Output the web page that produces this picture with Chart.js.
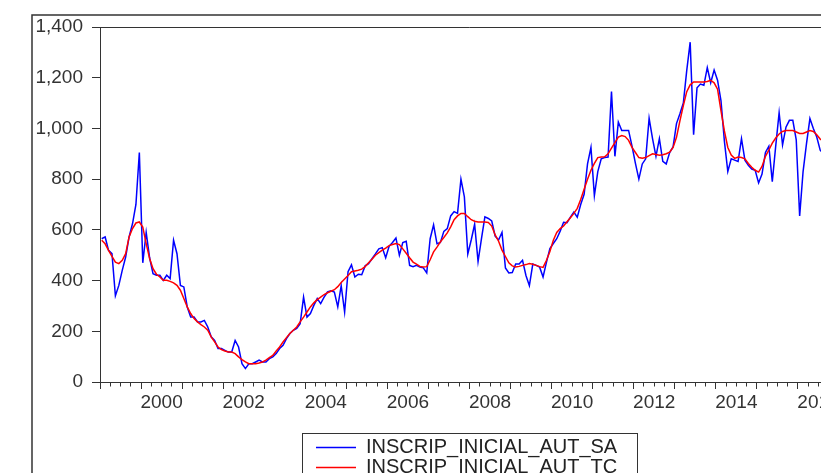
<!DOCTYPE html>
<html lang="en">
<head>
<meta charset="UTF-8">
<title>INSCRIP_INICIAL_AUT</title>
<script src="https://cdn.jsdelivr.net/npm/chart.js"></script>
<style>
  html, body { margin: 0; padding: 0; overflow: hidden; background: #fff; }
  .chart-container { width: 900px; height: 500px; }
</style>
</head>
<body>
<div class="chart-container"><canvas id="chart" width="900" height="500"></canvas></div>
<script>
// monthly series, first observation 1999M01
const startYear = 1999;
const yearLabels = [2000, 2002, 2004, 2006, 2008, 2010, 2012, 2014, 2016];
const seriesNames = ['INSCRIP_INICIAL_AUT_SA', 'INSCRIP_INICIAL_AUT_TC'];
const seriesColors = ['#0000ff', '#ff0000'];

const sa = [
  565, 572, 519, 506, 340, 381, 440, 493, 572, 624, 700, 905,   // 1999
  470, 590, 490, 427, 421, 421, 401, 421, 408, 559, 506, 381,   // 2000
  375, 296, 256, 256, 237, 237, 243, 217, 178, 164, 132, 132,   // 2001
  125, 118, 118, 164, 138, 72, 53, 72, 72, 79, 86, 79,          // 2002
  79, 92, 99, 112, 132, 145, 171, 191, 204, 211, 230, 335,      // 2003
  256, 270, 302, 329, 309, 335, 355, 360, 355, 296, 380, 276,   // 2004
  435, 462, 414, 425, 423, 458, 467, 486, 505, 525, 530, 490,   // 2005
  535, 550, 568, 500, 550, 555, 460, 455, 460, 453, 450, 430,   // 2006
  565, 620, 545, 550, 594, 605, 655, 672, 665, 800, 730, 505,   // 2007
  560, 622, 475, 565, 651, 645, 635, 575, 560, 590, 450, 430,   // 2008
  432, 465, 465, 480, 420, 380, 465, 460, 453, 414, 473, 526,   // 2009
  546, 565, 595, 630, 628, 650, 670, 650, 700, 740, 860, 925,   // 2010
  735, 830, 880, 885, 887, 1145, 890, 1025, 992, 992, 992, 930, // 2011
  862, 800, 860, 880, 1040, 960, 890, 960, 870, 860, 905, 927,  // 2012
  1019, 1058, 1100, 1229, 1340, 975, 1160, 1175, 1170, 1240, 1180, 1230, // 2013
  1190, 1110, 950, 830, 880, 875, 870, 960, 875, 855, 840, 835, // 2014
  785, 820, 905, 930, 790, 930, 1062, 935, 1005, 1032, 1032, 955, // 2015
  655, 830, 940, 1039, 1000, 966, 914, 900                      // 2016
];

const tc = [
  559, 545, 519, 495, 473, 467, 480, 506, 572, 605, 627, 631,   // 1999
  611, 546, 487, 447, 425, 414, 401, 401, 397, 391, 381, 362,   // 2000
  329, 296, 270, 250, 237, 226, 217, 204, 178, 158, 138, 128,   // 2001
  122, 118, 118, 112, 99, 88, 79, 72, 72, 72, 75, 79,           // 2002
  86, 96, 105, 122, 138, 158, 175, 191, 204, 217, 237, 256,     // 2003
  276, 296, 312, 325, 335, 345, 352, 358, 364, 376, 392, 406,   // 2004
  420, 435, 438, 441, 445, 455, 470, 484, 500, 510, 520, 528,   // 2005
  538, 542, 546, 542, 525, 508, 490, 473, 465, 456, 454, 455,   // 2006
  482, 513, 532, 553, 570, 588, 612, 640, 655, 665, 665, 652,   // 2007
  640, 634, 631, 631, 631, 629, 615, 580, 555, 520, 495, 470,   // 2008
  458, 454, 456, 460, 463, 467, 464, 460, 455, 452, 480, 515,   // 2009
  559, 590, 605, 615, 632, 648, 665, 685, 720, 760, 800, 835,   // 2010
  862, 885, 887, 888, 900, 922, 944, 966, 972, 968, 953, 925,   // 2011
  905, 885, 882, 885, 893, 900, 897, 894, 896, 900, 906, 925,   // 2012
  965, 1030, 1090, 1145, 1172, 1183, 1183, 1183, 1183, 1185, 1190, 1180, // 2013
  1155, 1070, 990, 925, 895, 882, 887, 885, 880, 862, 847, 835, // 2014
  828, 850, 890, 915, 942, 962, 978, 988, 992, 992, 992, 986,   // 2015
  980, 980, 986, 992, 988, 975, 958, 950                        // 2016
];

const months = sa.map((_, i) => startYear + (i + 0.5) / 12);
const toPoints = arr => arr.map((v, i) => ({ x: months[i], y: v }));

const fontFamily = '"Liberation Sans", Arial, sans-serif';

// frame round the whole graph and the top / right edges of the plot box
const frames = {
  id: 'frames',
  afterDraw(chart) {
    const { ctx, chartArea: a } = chart;
    ctx.save();
    ctx.strokeStyle = '#333';
    ctx.lineWidth = 1.5;
    ctx.strokeRect(32, 15, 860, 480);
    ctx.lineWidth = 1;
    ctx.beginPath();
    ctx.moveTo(a.left, a.top + 0.5);
    ctx.lineTo(a.right + 0.5, a.top + 0.5);
    ctx.lineTo(a.right + 0.5, a.bottom);
    ctx.stroke();
    ctx.restore();
  }
};

// EViews style boxed legend under the plot
const legendBox = {
  id: 'legendBox',
  afterDraw(chart) {
    const { ctx, chartArea: a } = chart;
    const w = 335;
    const top = Math.round(a.bottom + 51);
    const left = Math.round((a.left + a.right) / 2 - w / 2);
    ctx.save();
    ctx.lineWidth = 1;
    ctx.strokeStyle = '#333';
    ctx.strokeRect(left + 0.5, top + 0.5, w, 60);
    ctx.font = '20px ' + fontFamily;
    ctx.textBaseline = 'middle';
    seriesNames.forEach((name, i) => {
      const y = top + 14.5 + i * 20;
      ctx.lineWidth = 1.5;
      ctx.strokeStyle = seriesColors[i];
      ctx.beginPath();
      ctx.moveTo(left + 14, y);
      ctx.lineTo(left + 54, y);
      ctx.stroke();
      ctx.fillStyle = '#222';
      ctx.fillText(name, left + 64, y);
    });
    ctx.restore();
  }
};

new Chart(document.getElementById('chart'), {
  type: 'line',
  data: {
    datasets: [
      { label: seriesNames[0], data: toPoints(sa), borderColor: seriesColors[0], borderWidth: 1.5, order: 2 },
      { label: seriesNames[1], data: toPoints(tc), borderColor: seriesColors[1], borderWidth: 1.5, order: 1 }
    ]
  },
  options: {
    responsive: false,
    animation: false,
    elements: { point: { radius: 0 }, line: { tension: 0 } },
    layout: { padding: { left: 0, top: 27, right: 61, bottom: 0 } },
    plugins: { legend: { display: false }, tooltip: { enabled: false } },
    scales: {
      x: {
        type: 'linear',
        min: startYear,
        max: 2017,
        afterFit: s => { s.height = 118; },
        afterBuildTicks: s => {
          const t = [];
          for (let q = startYear * 4; q <= 2017 * 4; q++) t.push({ value: q / 4 });
          s.ticks = t;
        },
        ticks: {
          autoSkip: false,
          maxRotation: 0,
          minRotation: 0,
          padding: 2,
          color: '#333',
          font: { family: fontFamily, size: 19 },
          callback: v => {
            const y = Math.floor(v);
            return (Math.abs(v - y - 0.5) < 1e-6 && yearLabels.includes(y)) ? String(y) : '';
          }
        },
        grid: {
          drawOnChartArea: false,
          drawTicks: true,
          tickLength: 7,
          color: '#333',
          tickBorderDash: c => (c.tick && Math.abs(c.tick.value - Math.round(c.tick.value)) < 1e-6) ? [] : [3.5, 50]
        },
        border: { display: true, color: '#333', width: 1 }
      },
      y: {
        min: 0,
        max: 1400,
        afterFit: s => { s.width = 100; },
        ticks: {
          stepSize: 200,
          padding: 9,
          color: '#333',
          font: { family: fontFamily, size: 19 },
          callback: v => v.toLocaleString('en-US')
        },
        grid: { drawOnChartArea: false, drawTicks: true, tickLength: 8, color: '#333' },
        border: { display: true, color: '#333', width: 1 }
      }
    }
  },
  plugins: [frames, legendBox]
});
</script>
</body>
</html>
